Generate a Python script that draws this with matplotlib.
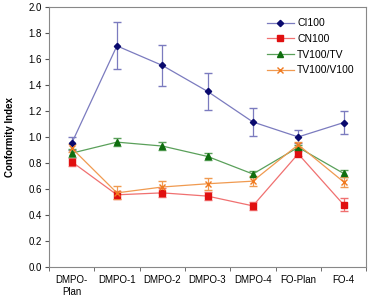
import numpy as np
import matplotlib
matplotlib.use("Agg")
import matplotlib.pyplot as plt
from matplotlib import rcParams
from matplotlib.lines import Line2D

rcParams.update({
    "font.family": ["Liberation Sans", "DejaVu Sans"],
    "font.size": 7,
})

categories = ["DMPO-\nPlan", "DMPO-1", "DMPO-2", "DMPO-3", "DMPO-4", "FO-Plan", "FO-4"]

ci100 = [0.95, 1.70, 1.55, 1.35, 1.115, 1.00, 1.11]
ci100_err = [0.05, 0.18, 0.16, 0.14, 0.11, 0.05, 0.09]
cn100 = [0.81, 0.555, 0.57, 0.545, 0.47, 0.87, 0.48]
cn100_err = [0.03, 0.03, 0.035, 0.03, 0.03, 0.02, 0.05]
tv_tv = [0.875, 0.96, 0.93, 0.85, 0.715, 0.92, 0.72]
tv_tv_err = [0.03, 0.03, 0.03, 0.03, 0.025, 0.02, 0.025]
tv_v100 = [0.915, 0.57, 0.615, 0.64, 0.66, 0.94, 0.655]
tv_v100_err = [0.03, 0.05, 0.045, 0.045, 0.04, 0.02, 0.04]

series = [
    ("CI100", ci100, ci100_err, "#7b7bbf", "#0a0a6e", "D", 3.2),
    ("CN100", cn100, cn100_err, "#f07070", "#e01010", "s", 4),
    ("TV100/TV", tv_tv, tv_tv_err, "#5aa05a", "#0f6e0f", "^", 4.5),
    ("TV100/V100", tv_v100, tv_v100_err, "#f09a50", "#f07a20", "x", 5),
]

fig = plt.figure(figsize=(3.68, 2.98), dpi=100)
ax = fig.add_axes([0.133, 0.104, 0.862, 0.873])
x = np.arange(len(categories))

handles = []
for name, vals, err, lc, mc, mk, ms in series:
    ax.errorbar(x, vals, yerr=err, color=lc, ecolor=lc, elinewidth=0.9,
                capsize=3, capthick=0.9, linewidth=0.9, marker=mk,
                markersize=ms, markerfacecolor=mc, markeredgecolor=mc,
                markeredgewidth=1.0)
    handles.append(Line2D([], [], color=lc, linewidth=0.9, marker=mk,
                          markersize=ms, markerfacecolor=mc,
                          markeredgecolor=mc, label=name))

ax.set_xlim(-0.5, len(categories) - 0.5)
ax.set_ylim(0, 2.0)
yt = np.arange(0, 2.01, 0.2)
ax.set_yticks(yt)
ax.set_yticklabels([f"{v:.1f}" for v in yt])
ax.set_xticks(x)
ax.set_xticklabels(categories)
ax.tick_params(axis="x", length=0, pad=6)
ax.set_xticks(np.arange(-0.5, len(categories), 1.0), minor=True)
ax.tick_params(axis="x", which="minor", length=3, direction="out", color="#555555")
ax.tick_params(axis="y", length=3, direction="out", color="#555555", pad=2)
for s in ax.spines.values():
    s.set_color("#888888")
    s.set_linewidth(0.8)
ax.set_ylabel("Conformity Index", fontweight="bold", labelpad=10)
ax.legend(handles=handles, loc="upper right", frameon=False, fontsize=7.5,
          handlelength=2.6, handletextpad=0.3, borderaxespad=0.7,
          labelspacing=0.55)

fig.savefig("out.png", dpi=100)
